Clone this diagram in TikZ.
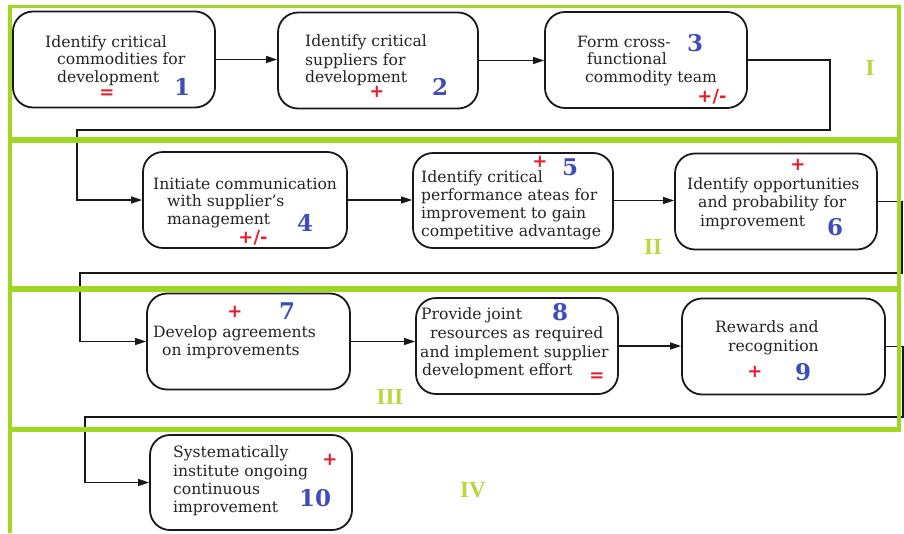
\documentclass[tikz,border=0pt]{standalone}
\usepackage{fontspec}
\setmainfont{DejaVu Serif}
\newfontfamily\numfont{DejaVu Serif}
\newfontfamily\symfont{DejaVu Sans}
\newfontfamily\romfont{Liberation Serif}
\usetikzlibrary{arrows.meta}
\definecolor{lime}{RGB}{160,215,35}
\definecolor{romgreen}{RGB}{185,215,60}
\definecolor{numblue}{RGB}{65,75,185}
\definecolor{symred}{RGB}{228,30,45}
\definecolor{txt}{RGB}{35,35,35}
\tikzset{
  box/.style={draw=black!90, line width=1.8pt, rounded corners=20pt, minimum width=202pt, minimum height=96pt, inner sep=0pt},
  ln/.style={anchor=base west, inner sep=0pt, text=txt, font=\fontsize{15.6}{17}\selectfont},
  num/.style={inner sep=0pt, text=numblue, font=\numfont\bfseries\fontsize{23}{23}\selectfont},
  sym/.style={inner sep=0pt, text=symred, font=\symfont\bfseries\fontsize{18}{18}\selectfont},
  rom/.style={inner sep=0pt, text=romgreen, font=\romfont\bfseries\fontsize{23}{23}\selectfont},
  conn/.style={line width=1.3pt, draw=black!90, -{Triangle[length=11pt,width=7pt]}},
  gline/.style={draw=lime}
}
\begin{document}
\begin{tikzpicture}[x=1pt,y=-1pt]
\useasboundingbox (0,0) rectangle (904,533);
\fill[white] (0,0) rectangle (904,533);

% boxes
\node[box] (b1) at (114,59.5) {};
\node[box, minimum width=200pt] (b2) at (378,60.5) {};
\node[box] (b3) at (646,60) {};
\node[box, minimum width=204pt] (b4) at (245,200) {};
\node[box, minimum width=200pt, minimum height=95pt] (b5) at (513,200.5) {};
\node[box] (b6) at (776,201.5) {};
\node[box, minimum width=203pt] (b7) at (248.5,341.5) {};
\node[box] (b8) at (517,346) {};
\node[box, minimum width=203pt] (b9) at (783.5,346.5) {};
\node[box, minimum height=95pt] (b10) at (251,482.5) {};

% corner points of the wrap-around connectors
\coordinate (c3a) at (830,130);
\coordinate (c3b) at (77,130);
\coordinate (c6a) at (902,273);
\coordinate (c6b) at (80,273);
\coordinate (c9a) at (903,417);
\coordinate (c9b) at (85,417);

% connectors
\draw[conn] (b1.east) -- (b1.east -| b2.west);
\draw[conn] (b2.east) -- (b2.east -| b3.west);
\draw[conn] (b3.east) -| (c3a) -- (c3b) |- (b4.west);
\draw[conn] (b4.east) -- (b4.east -| b5.west);
\draw[conn] (b5.east) -- (b5.east -| b6.west);
\draw[conn] (b6.east) -| (c6a) -- (c6b) |- (b7.west);
\draw[conn] (b7.east) -- (b7.east -| b8.west);
\draw[conn] (b8.east) -- (b8.east -| b9.west);
\draw[conn] (b9.east) -| (c9a) -- (c9b) |- (b10.west);

% green band frames
\draw[gline, line width=3.5pt] (8,6.5) -- (901,6.5);
\draw[gline, line width=4pt] (10,5) -- (10,533);
\draw[gline, line width=3.5pt] (899,5) -- (899,431);
\draw[gline, line width=6pt] (8,140) -- (901,140);
\draw[gline, line width=6pt] (8,289) -- (901,289);
\draw[gline, line width=5pt] (8,429) -- (901,429);

% box 1
\node[ln] (t1a) at (45,47) {Identify critical};
\node[ln] (t1b) at (57,64) {commodities for};
\node[ln] (t1c) at (57,82) {development};
\node[sym] (s1) at (107,94) {=};
\node[num] (n1) at (182,87) {1};
% box 2
\node[ln] (t2a) at (305,46) {Identify critical};
\node[ln] (t2b) at (305,65) {suppliers for};
\node[ln] (t2c) at (305,82) {development};
\node[sym] (s2) at (377,92) {+};
\node[num] (n2) at (440,87) {2};
% box 3
\node[ln] (t3a) at (577,47) {Form cross-};
\node[ln] (t3b) at (587,64) {functional};
\node[ln] (t3c) at (585,82) {commodity team};
\node[num] (n3) at (695,43) {3};
\node[sym] (s3) at (712,97) {+/-};
\node[rom] (r1) at (870,68) {I};
% box 4
\node[ln] (t4a) at (153,189) {Initiate communication};
\node[ln] (t4b) at (167,206) {with supplier's};
\node[ln] (t4c) at (167,224) {management};
\node[sym] (s4) at (253,238) {+/-};
\node[num] (n4) at (305,223) {4};
% box 5
\node[ln] (t5a) at (421,182) {Identify critical};
\node[ln] (t5b) at (421,200) {performance ateas for};
\node[ln] (t5c) at (421,218) {improvement to gain};
\node[ln] (t5d) at (421,236) {competitive advantage};
\node[sym] (s5) at (540,162) {+};
\node[num] (n5) at (570,167) {5};
\node[rom] (r2) at (653,247) {II};
% box 6
\node[ln] (t6a) at (687,189) {Identify opportunities};
\node[ln] (t6b) at (698,207) {and probability for};
\node[ln] (t6c) at (700,226) {improvement};
\node[sym] (s6) at (798,165) {+};
\node[num] (n6) at (835,227) {6};
% box 7
\node[ln] (t7a) at (153,337) {Develop agreements};
\node[ln] (t7b) at (162,355) {on improvements};
\node[sym] (s7) at (235,312) {+};
\node[num] (n7) at (287,311) {7};
% box 8
\node[ln] (t8a) at (421,319) {Provide joint};
\node[ln] (t8b) at (430,338) {resources as required};
\node[ln] (t8c) at (420,357) {and implement supplier};
\node[ln] (t8d) at (422,375) {development effort};
\node[num] (n8) at (560,312) {8};
\node[sym] (s8) at (597,377) {=};
\node[rom] (r3) at (390,397) {III};
% box 9
\node[ln] (t9a) at (715,332) {Rewards and};
\node[ln] (t9b) at (728,351) {recognition};
\node[sym] (s9) at (755,372) {+};
\node[num] (n9) at (803,372) {9};
% box 10
\node[ln] (t10a) at (173,457) {Systematically};
\node[ln] (t10b) at (173,476) {institute ongoing};
\node[ln] (t10c) at (173,494) {continuous};
\node[ln] (t10d) at (173,512) {improvement};
\node[sym] (s10) at (330,460) {+};
\node[num] (n10) at (315,498) {10};
\node[rom] (r4) at (473,490) {IV};
\end{tikzpicture}
\end{document}
